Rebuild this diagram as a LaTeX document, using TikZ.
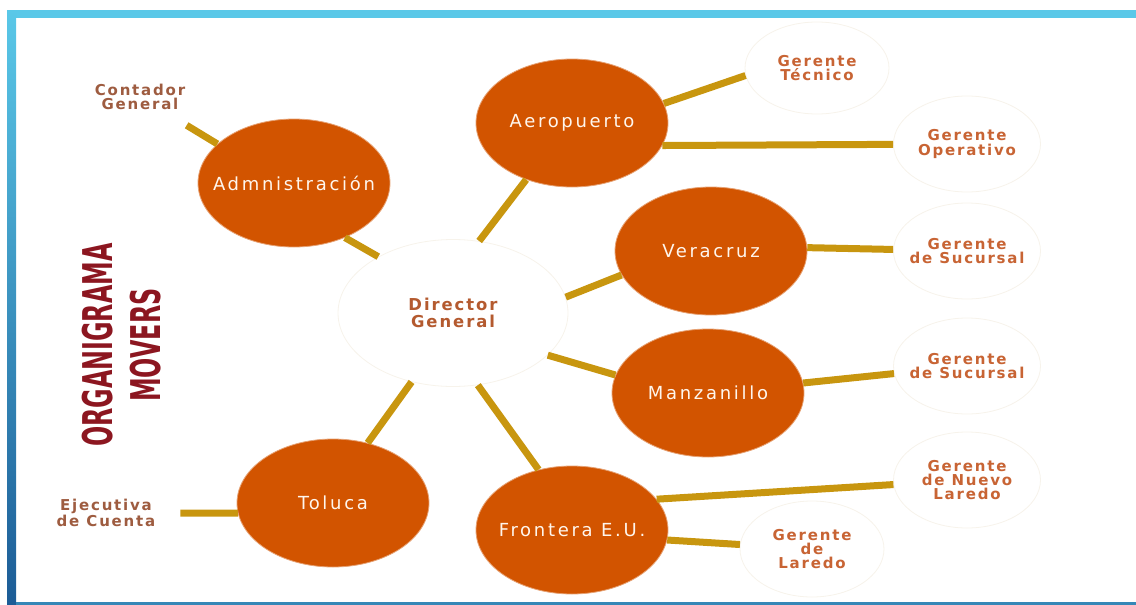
\documentclass[tikz,border=0pt]{standalone}
\usepackage{fontspec}
\usepackage{xcolor}
\usepackage{tikz}
\usetikzlibrary{positioning}
\usetikzlibrary{shapes.geometric}

\newfontfamily\unitfont[LetterSpace=15]{DejaVu Sans}
\newfontfamily\subfont[LetterSpace=12]{DejaVu Sans}
\newfontfamily\ttlfont{DejaVu Sans}

\definecolor{orng}{RGB}{210,84,0}
\definecolor{gold}{RGB}{200,150,15}
\definecolor{faint}{RGB}{247,243,235}
\definecolor{lbl}{RGB}{200,100,52}
\definecolor{brn}{RGB}{158,92,64}
\definecolor{ttl}{RGB}{140,22,32}
\definecolor{sky}{RGB}{90,200,232}
\definecolor{navy}{RGB}{28,92,150}

\begin{document}
\begin{tikzpicture}[x=0.5pt, y=-0.5pt, on grid, unit/.style ={ellipse, fill = orng, draw = orng!55!white, minimum width=96pt, minimum height=64pt}, sub/.style={ellipse, fill = white, draw = faint, minimum width=73.5pt, minimum height=48pt}, utxt/.style={text = white!93!orange, font=\unitfont\fontsize{9}{11}\selectfont}, stxt/.style={align=center, text = lbl, font=\subfont\bfseries\fontsize{7.5}{7.2}\selectfont}, every edge/.style={draw = gold, line width=3.5pt}]
	\useasboundingbox (0,0) rectangle (1136,605);
	% marco
	\fill[sky] (7,10) rectangle (1136,18);
	\shade[top color = sky, bottom color = navy] (7,10) rectangle (16,605);
	\fill[navy!60!sky] (16,602) rectangle (1136,605);
	% titulo
	\node[rotate=90, xscale=0.58, transform shape, align=center, text = ttl, font=\ttlfont\bfseries\fontsize{20.5}{24}\selectfont] (title) at (122,345) {ORGANIGRAMA\\MOVERS};
	% nodos
	\node[ellipse, fill = white, draw = faint, minimum width=115pt, minimum height=73.5pt, label = {[stxt, text = lbl!90!black, font=\subfont\bfseries\fontsize{8.2}{8.5}\selectfont]center:{Director\\General}}] (dir) at (453,313) {};
	\node[unit, label = {[utxt]center:Admnistración}] (adm) [above left = 65pt and 79.5pt of dir] {};
	\node[unit, label = {[utxt]center:Aeropuerto}] (aero) [above right = 95pt and 59.5pt of dir] {};
	\node[unit, label = {[utxt]center:Veracruz}] (vera) [above right = 31pt and 129pt of dir] {};
	\node[unit, label = {[utxt]center:Manzanillo}] (manz) [below right = 40pt and 127.5pt of dir] {};
	\node[unit, label = {[utxt]center:Frontera E.U.}] (front) [below right = 108.5pt and 59.5pt of dir] {};
	\node[unit, label = {[utxt]center:Toluca}] (tol) [below left = 95pt and 60pt of dir] {};
	\node[sub, draw = none, minimum width=65pt, minimum height=40pt, label = {[stxt, text = brn]center:{Contador\\General}}] (cont) [above left = 43pt and 77pt of adm] {};
	\node[sub, minimum width=72pt, minimum height=46pt, label = {[stxt]center:{Gerente\\Técnico}}] (tec) [above right = 27.5pt and 122.5pt of aero] {};
	\node[sub, label = {[stxt]center:{Gerente\\Operativo}}] (oper) [below right = 10.5pt and 197.5pt of aero] {};
	\node[sub, label = {[stxt]center:{Gerente\\de Sucursal}}] (suc1) [right = 128pt of vera] {};
	\node[sub, label = {[stxt]center:{Gerente\\de Sucursal}}] (suc2) [above right = 13.5pt and 129.5pt of manz] {};
	\node[sub, label = {[stxt]center:{Gerente\\de Nuevo\\Laredo}}] (nl) [above right = 25pt and 197.5pt of front] {};
	\node[sub, minimum width=72pt, label = {[stxt]center:{Gerente\\de\\Laredo}}] (lar) [below right = 9.5pt and 120pt of front] {};
	\node[sub, draw = none, minimum width=74pt, minimum height=40pt, label = {[stxt, text = brn]center:{Ejecutiva\\de Cuenta}}] (ejec) [below left = 5pt and 113.5pt of tol] {};
	% conectores
	\path (dir.143) edge (adm.313)
	(dir.70) edge (aero.231)
	(dir.8) edge (vera.195)
	(dir.336) edge (manz.169)
	(dir.289) edge (front.119)
	(dir.239) edge (tol.60)
	(adm.153) edge (cont)
	(aero.12) edge (tec.186)
	(aero.346) edge (oper)
	(vera.2) edge (suc1)
	(manz.6) edge (suc2)
	(front.20) edge (nl)
	(front.354) edge (lar)
	(tol.186) edge (ejec);
\end{tikzpicture}
\end{document}
